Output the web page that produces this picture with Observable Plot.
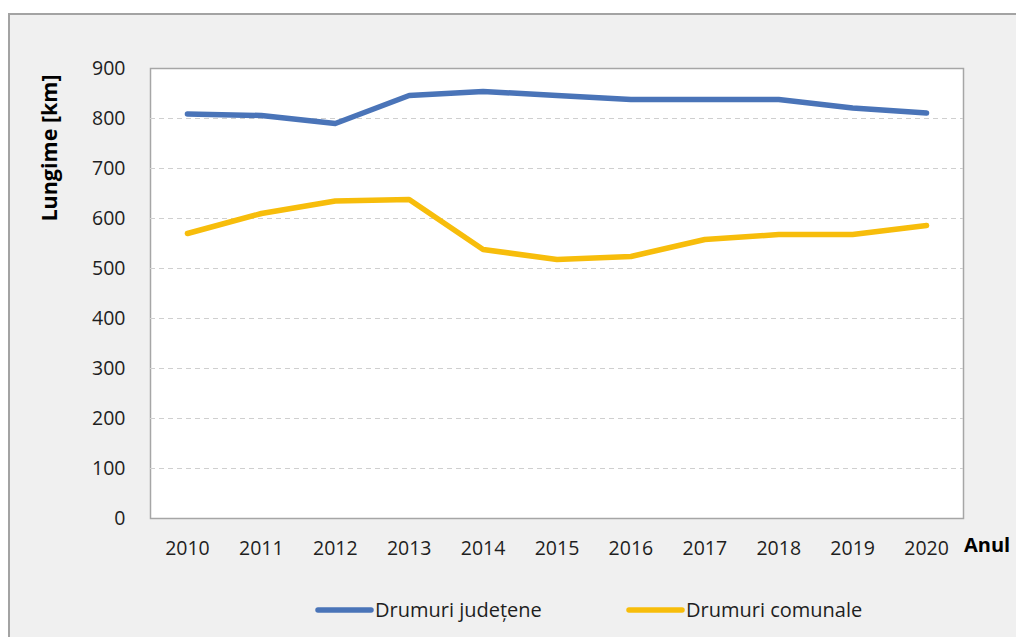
<!DOCTYPE html>
<html>
<head>
<meta charset="utf-8">
<script src="https://cdn.jsdelivr.net/npm/d3@7"></script>
<script src="https://cdn.jsdelivr.net/npm/@observablehq/plot@0.6"></script>
<style>
  html, body { margin: 0; padding: 0; background: #ffffff; }
  body { width: 1016px; height: 637px; overflow: hidden; position: relative; font-family: "Open Sans", sans-serif; }
  #frame { position: absolute; left: 8px; top: 13px; width: 1100px; height: 700px; background: #f0f0f0; border: 2px solid #a3a3a3; }
  #chart { position: absolute; left: 0; top: 0; }
</style>
</head>
<body>
<div id="frame"></div>
<div id="chart"></div>
<script>
// ---- data ----
const years = ["2010","2011","2012","2013","2014","2015","2016","2017","2018","2019","2020"];
const judetene = [809, 806, 790, 846, 854, 846, 838, 838, 838, 821, 811];
const comunale = [570, 610, 635, 638, 538, 518, 524, 558, 568, 568, 586];
const seriesNames = ["Drumuri județene", "Drumuri comunale"];
const seriesColors = ["#4a74b8", "#f7bd0b"];
const yTicks = [0, 100, 200, 300, 400, 500, 600, 700, 800, 900];
const gridTicks = [100, 200, 300, 400, 500, 600, 700, 800];
const yLabel = "Lungime [km]";
const xLabel = "Anul";

const rows = years.flatMap((yr, i) => [
  {year: yr, value: judetene[i], series: seriesNames[0]},
  {year: yr, value: comunale[i], series: seriesNames[1]}
]);

const chart = Plot.plot({
  width: 1016,
  height: 637,
  marginLeft: 150,
  marginRight: 53,
  marginTop: 68,
  marginBottom: 119,
  style: {background: "transparent", fontFamily: "Open Sans", fontSize: "19.5px", color: "#1e1e1e", overflow: "visible"},
  x: {type: "point", domain: years, padding: 0.5, round: false, label: null, tickSize: 0, tickPadding: 23},
  y: {domain: [0, 900], ticks: yTicks, label: null, tickSize: 0, tickPadding: 25},
  color: {domain: seriesNames, range: seriesColors},
  marks: [
    Plot.frame({fill: "white", stroke: "#a6a6a6", strokeWidth: 1.5}),
    Plot.ruleY(gridTicks, {stroke: "#cfcfcf", strokeWidth: 1, strokeDasharray: "5,4"}),
    Plot.line(rows, {x: "year", y: "value", z: "series", stroke: "series", strokeWidth: 5.5, strokeLinejoin: "round", strokeLinecap: "round"})
  ]
});
document.getElementById("chart").appendChild(chart);

const svg = d3.select(chart);
// y axis title
svg.append("text")
  .attr("transform", "translate(57,148) rotate(-90)")
  .attr("text-anchor", "middle")
  .attr("font-family", "Open Sans")
  .attr("font-weight", "bold")
  .attr("font-size", 21.5)
  .attr("fill", "#000")
  .text(yLabel);
// x axis title
svg.append("text")
  .attr("x", 964).attr("y", 552)
  .attr("text-anchor", "start")
  .attr("font-family", "Open Sans")
  .attr("font-weight", "bold")
  .attr("font-size", 20)
  .attr("fill", "#000")
  .text(xLabel);
// legend
const legendX = [318, 629];
seriesNames.forEach((name, i) => {
  const g = svg.append("g").attr("transform", `translate(${legendX[i]},610)`);
  g.append("line").attr("x1", 0).attr("x2", 53).attr("y1", 0).attr("y2", 0)
    .attr("stroke", seriesColors[i]).attr("stroke-width", 5.5).attr("stroke-linecap", "round");
  g.append("text").attr("x", 57).attr("y", 7)
    .attr("text-anchor", "start")
    .attr("font-family", "Open Sans").attr("font-size", 20).attr("fill", "#1e1e1e")
    .text(name);
});
</script>
</body>
</html>
